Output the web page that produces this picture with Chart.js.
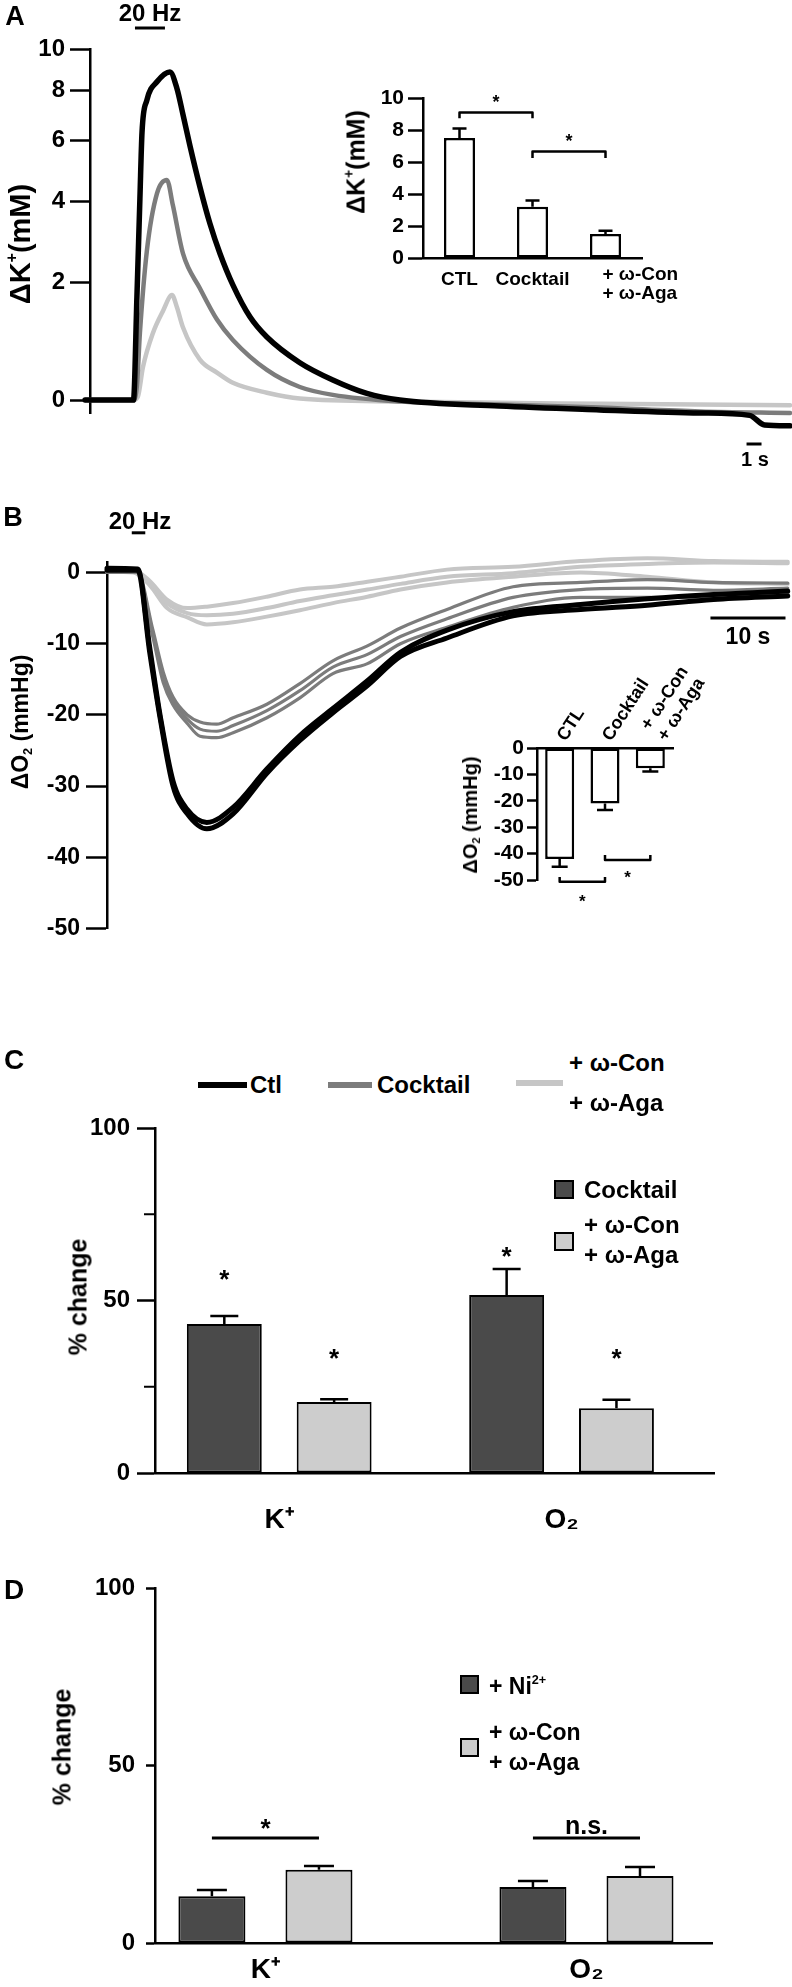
<!DOCTYPE html>
<html><head><meta charset="utf-8">
<script src="https://cdn.jsdelivr.net/npm/chart.js@4.4.1/dist/chart.umd.min.js"></script>
<style>
html,body{margin:0;padding:0;background:#fff;}
#fig{position:relative;width:792px;height:1987px;overflow:hidden;font-family:'Liberation Sans',Arial,Helvetica,sans-serif;font-weight:bold;color:#000;}
canvas{position:absolute;}
.t{position:absolute;white-space:nowrap;line-height:1;}
.c{transform:translate(-50%,-50%);}
.r{transform:translate(-50%,-50%) rotate(-90deg);}
.lv{transform:translateY(-50%);}
sup{font-size:55%;vertical-align:0;position:relative;top:-0.8em;line-height:0;}
sub{font-size:55%;vertical-align:0;position:relative;top:0.3em;line-height:0;}
.ln{position:absolute;height:6px;}
.sq{position:absolute;box-sizing:border-box;border:2px solid #000;}
</style></head>
<body>
<div id="fig">
  <canvas id="cA" width="792" height="470" style="left:0;top:0"></canvas>
  <canvas id="cAi" width="370" height="250" style="left:330px;top:60px"></canvas>
  <canvas id="cB" width="792" height="472" style="left:0;top:470px"></canvas>
  <canvas id="cBi" width="290" height="280" style="left:440px;top:640px"></canvas>
  <canvas id="cC" width="792" height="445" style="left:0;top:1105px"></canvas>
  <canvas id="cD" width="792" height="427" style="left:0;top:1560px"></canvas>

  <div class="t c" style="left:15px;top:16px;font-size:27px">A</div>
  <div class="t c" style="left:150px;top:13px;font-size:24px">20 Hz</div>
  <div class="t r" style="left:20px;top:244px;font-size:29px">ΔK<sup>+</sup>(mM)</div>
  <div class="t r" style="left:356px;top:162px;font-size:25px">ΔK<sup>+</sup>(mM)</div>
  <div class="t c" style="left:755px;top:459px;font-size:20px">1 s</div>

  <div class="t c" style="left:13px;top:517px;font-size:27px">B</div>
  <div class="t c" style="left:140px;top:521px;font-size:24px">20 Hz</div>
  <div class="t r" style="left:20px;top:722px;font-size:23px">ΔO<sub>2</sub> (mmHg)</div>
  <div class="t c" style="left:748px;top:636px;font-size:23px">10 s</div>
  <div class="t r" style="left:470px;top:815px;font-size:20px">ΔO<sub>2</sub> (mmHg)</div>

  <div class="t c" style="left:14px;top:1060px;font-size:28px">C</div>
  <div class="ln" style="left:198px;top:1082px;width:49px;background:#000"></div>
  <div class="t lv" style="left:250px;top:1085px;font-size:24px">Ctl</div>
  <div class="ln" style="left:328px;top:1082px;width:44px;background:#7c7c7c"></div>
  <div class="t lv" style="left:377px;top:1085px;font-size:24px">Cocktail</div>
  <div class="ln" style="left:516px;top:1080px;width:47px;background:#c6c6c6"></div>
  <div class="t lv" style="left:569px;top:1063px;font-size:24px">+ ω-Con</div>
  <div class="t lv" style="left:569px;top:1103px;font-size:24px">+ ω-Aga</div>
  <div class="t r" style="left:78px;top:1297px;font-size:25px">% change</div>
  <div class="sq" style="left:554px;top:1180px;width:20px;height:19px;background:#4a4a4a"></div>
  <div class="t lv" style="left:584px;top:1190px;font-size:24px">Cocktail</div>
  <div class="sq" style="left:554px;top:1232px;width:20px;height:19px;background:#cdcdcd"></div>
  <div class="t lv" style="left:584px;top:1225px;font-size:24px">+ ω-Con</div>
  <div class="t lv" style="left:584px;top:1255px;font-size:24px">+ ω-Aga</div>

  <div class="t c" style="left:14px;top:1590px;font-size:28px">D</div>
  <div class="t r" style="left:62px;top:1747px;font-size:25px">% change</div>
  <div class="sq" style="left:460px;top:1675px;width:19px;height:19px;background:#4a4a4a"></div>
  <div class="t lv" style="left:489px;top:1686px;font-size:23px">+ Ni<sup>2+</sup></div>
  <div class="sq" style="left:460px;top:1738px;width:19px;height:19px;background:#cdcdcd"></div>
  <div class="t lv" style="left:489px;top:1732px;font-size:23px">+ ω-Con</div>
  <div class="t lv" style="left:489px;top:1762px;font-size:23px">+ ω-Aga</div>
</div>
<script>
// ================= DATA =================
// Panel A: extracellular K+ transients (ΔK+, mM) vs time (s); electrode baseline for log axis
const K_BASELINE = 3.5;
const A_YTICKS = [0, 2, 4, 6, 8, 10];
const A_YMIN = -0.17;
const A_TMAX = 46.7;
const A_T_CTL = [-0.33, 2.9, 3.13, 3.33, 3.47, 3.8, 4.47, 5.33, 5.8, 6.2, 6.67, 7.33, 8.0, 8.67, 9.53, 10.67, 11.8, 14.0, 16.2, 18.47, 20.67, 27.3, 34.0, 40.7, 44.0, 45.0, 46.7];
const A_K_CTL = [0.0, 0.0, 1.7, 4.1, 6.3, 7.6, 8.4, 8.86, 8.1, 7.0, 5.8, 4.45, 3.4, 2.65, 1.95, 1.32, 0.96, 0.54, 0.28, 0.09, 0.0, -0.08, -0.13, -0.17, -0.2, -0.32, -0.33];
const A_T_COCKTAIL = [-0.33, 2.9, 3.13, 3.33, 3.8, 4.47, 5.13, 5.53, 6.2, 7.33, 8.47, 9.53, 11.8, 14.0, 16.2, 20.67, 27.3, 34.0, 40.7, 46.7];
const A_K_COCKTAIL = [0.0, 0.0, 0.2, 1.03, 2.73, 4.25, 4.66, 3.9, 2.65, 1.88, 1.27, 0.91, 0.43, 0.18, 0.07, -0.02, -0.06, -0.1, -0.15, -0.17];
const A_T_CONAGA = [-0.33, 2.9, 3.2, 3.53, 4.2, 4.87, 5.47, 5.8, 6.2, 7.33, 8.47, 9.53, 11.8, 14.0, 20.67, 34.0, 46.7];
const A_K_CONAGA = [0.0, 0.0, 0.05, 0.47, 1.03, 1.43, 1.74, 1.5, 1.13, 0.59, 0.39, 0.24, 0.1, 0.02, -0.02, -0.05, -0.07];
const A_STIM = [3, 5];          // 20 Hz stimulation (s)
const A_SCALEBAR = [43.8, 1];   // start (s), length (s)

// Panel A inset: ΔK+ (mM)
const INSET_A_CATS = ['CTL', 'Cocktail', ['+ ω-Con', '+ ω-Aga']];
const INSET_A_MEAN = [7.5, 3.2, 1.5];
const INSET_A_SEM = [0.6, 0.4, 0.2];
const INSET_A_YTICKS = [0, 2, 4, 6, 8, 10];
const INSET_A_SIG = [
  { from: 0, to: 1, level: 9.1, drop: 0.37, star: 10.0 },
  { from: 1, to: 2, level: 6.65, drop: 0.4, star: 7.6 }
];

// Panel B: ΔO2 (mmHg) vs time (s), several repeated traces per condition
const B_YTICKS = [0, -10, -20, -30, -40, -50];
const B_YMAX = 1.5;
const B_TMAX = 91;
const B_T_CTL = [0, 4.1, 5.7, 7.1, 8.8, 10.7, 13.3, 16.8, 21.3, 25.7, 30.1, 34.7, 39.1, 45.3, 54.1, 63.1, 72, 80.8, 90.7];
const B_O2_CTL_1 = [0.6, 0.5, -10.6, -20.2, -29.3, -33.3, -35.1, -33.0, -27.6, -22.9, -19.1, -15.2, -11.2, -8.1, -5.5, -4.5, -3.7, -3.1, -2.6];
const B_O2_CTL_2 = [0.3, 0.3, -11.3, -20.6, -30.0, -33.9, -36.0, -33.9, -28.2, -23.6, -19.7, -15.9, -11.8, -9.2, -6.1, -5.2, -4.6, -3.8, -3.3];
const B_T_COCKTAIL = [0, 4, 6.1, 7.5, 8.8, 10.7, 12.4, 14.6, 16.8, 21.3, 25.7, 30.1, 34.7, 39.1, 45.3, 54.1, 63.1, 72, 80.8, 90.7];
const B_O2_COCKTAIL_1 = [0.4, 0.3, -8.0, -14.0, -17.5, -20.0, -21.0, -21.3, -20.4, -18.5, -15.6, -12.4, -10.3, -7.8, -5.2, -2.0, -1.4, -1.0, -1.4, -1.5];
const B_O2_COCKTAIL_2 = [0.2, 0.1, -8.6, -14.8, -18.0, -20.6, -22.0, -22.3, -21.5, -19.4, -16.6, -13.3, -11.5, -9.0, -6.5, -3.5, -2.4, -2.2, -2.5, -2.2];
const B_O2_COCKTAIL_3 = [0.0, 0.0, -9.0, -15.5, -18.6, -21.2, -23.0, -23.2, -22.5, -20.4, -17.6, -14.2, -12.8, -10.0, -7.7, -4.9, -3.5, -3.5, -3.5, -3.0];
const B_T_CONAGA = [0, 3.5, 5.7, 8, 10.7, 13.3, 16.8, 21.3, 25.7, 30.1, 34.7, 39.1, 45.3, 54.1, 63.1, 72, 80.8, 90.7];
const B_O2_CONAGA_1 = [0.5, 0.4, -1.2, -3.8, -5.0, -4.8, -4.3, -3.4, -2.4, -2.0, -1.3, -0.6, 0.4, 0.8, 1.6, 2.0, 1.6, 1.5];
const B_O2_CONAGA_2 = [0.3, 0.2, -1.5, -4.3, -5.7, -6.0, -5.8, -5.0, -4.0, -3.2, -2.4, -1.6, -0.6, -0.1, 0.8, 1.2, 1.4, 1.3];
const B_O2_CONAGA_3 = [0.1, 0.0, -1.8, -5.0, -6.3, -7.3, -7.0, -6.2, -5.3, -4.3, -3.4, -2.4, -1.4, -0.6, 0.0, -0.6, -1.4, -1.6];
const B_STIM = [3.3, 5.1];
const B_SCALEBAR = { start: 80.4, len: 10, level: -6.4 };

// Panel B inset: ΔO2 (mmHg)
const INSET_B_CATS = ['CTL', 'Cocktail', ['+ ω-Con', '+ ω-Aga']];
const INSET_B_MEAN = [-42, -21, -7.7];
const INSET_B_SEM = [3, 2.5, 1.2];
const INSET_B_YTICKS = [0, -10, -20, -30, -40, -50];
const INSET_B_SIG = [
  { from: 0, to: 1, level: -50.7, rise: 1.8, star: -56.4 },
  { from: 1, to: 2, level: -42.4, rise: 1.9, star: -47.3 }
];

// Panel C: % change
const C_CATS = ['K⁺', 'O₂'];
const C_COCKTAIL = [43.2, 51.6];
const C_COCKTAIL_SEM = [2.3, 7.5];
const C_CONAGA = [20.6, 18.8];
const C_CONAGA_SEM = [0.8, 2.4];
const C_YTICKS = [0, 50, 100];
const C_YMINOR = [25, 75];
const C_STAR_COCKTAIL = [58, 64.6];
const C_STAR_CONAGA = [35, 35];

// Panel D: % change
const D_CATS = ['K⁺', 'O₂'];
const D_NI = [13.2, 15.8];
const D_NI_SEM = [1.7, 1.7];
const D_CONAGA = [20.6, 18.9];
const D_CONAGA_SEM = [1.1, 2.5];
const D_YTICKS = [0, 50, 100];
const D_SIG_TEXT = ['*', 'n.s.'];
const D_SIG_LEVEL = 29.6;
const D_SIG_TEXT_LEVEL = [34.1, 30.7];

// ================= STYLE / HELPERS =================
const FONT = "'Liberation Sans', Arial, Helvetica, sans-serif";
const BLACK = '#000000', GRAY = '#7c7c7c', LIGHT = '#c6c6c6', DARKBAR = '#4a4a4a', LIGHTBAR = '#cdcdcd';

Chart.defaults.font.family = FONT;
Chart.defaults.font.weight = 'bold';
Chart.defaults.color = '#000';
Chart.defaults.animation = false;
Chart.defaults.responsive = false;
Chart.defaults.devicePixelRatio = 1;
Chart.defaults.events = [];
Chart.defaults.plugins.legend.display = false;
Chart.defaults.plugins.tooltip.enabled = false;

function fixW(w) { return s => { s.width = w; s.paddingTop = 0; s.paddingBottom = 0; s.paddingLeft = 0; s.paddingRight = 0; }; }
function fixH(h) { return s => { s.height = h; s.paddingTop = 0; s.paddingBottom = 0; s.paddingLeft = 0; s.paddingRight = 0; }; }
function setTicks(vals, f) { return s => { s.ticks = vals.map(v => ({ value: f ? f(v) : v })); }; }

function yAxis(o) {
  return {
    type: o.type || 'linear', position: 'left', min: o.min, max: o.max,
    afterBuildTicks: setTicks(o.ticks, o.toScale),
    afterFit: fixW(o.width),
    ticks: { autoSkip: false, font: { size: o.size, weight: 'bold' }, padding: o.pad, color: '#000', callback: o.fmt || (v => String(v)) },
    grid: { display: true, drawOnChartArea: false, drawTicks: true, tickLength: o.tickLen, tickWidth: o.lw || 2.5, tickColor: '#000', color: '#000' },
    border: { display: true, color: '#000', width: o.lw || 2.5 }
  };
}
function trace(ts, vs, color, w, f) {
  return {
    data: ts.map((t, i) => ({ x: t, y: f ? f(vs[i]) : vs[i] })),
    borderColor: color, borderWidth: w, pointRadius: 0, fill: false, clip: false,
    tension: 0.4, cubicInterpolationMode: 'monotone', borderJoinStyle: 'round', borderCapStyle: 'round'
  };
}
function drawStar(ctx, x, yc, size) {
  ctx.font = `bold ${size}px ${FONT}`; ctx.textAlign = 'center'; ctx.textBaseline = 'alphabetic';
  ctx.fillText('*', x, yc + size * 0.575);
}
function hbar(ctx, x1, x2, y, w) {
  ctx.save(); ctx.strokeStyle = '#000'; ctx.lineWidth = w; ctx.lineCap = 'butt';
  ctx.beginPath(); ctx.moveTo(x1, y); ctx.lineTo(x2, y); ctx.stroke(); ctx.restore();
}

const errorBars = {
  id: 'errorBars',
  afterDatasetsDraw(chart, args, opts) {
    if (!opts || !opts.sem) return;
    const { ctx } = chart; const ys = chart.scales.y;
    ctx.save(); ctx.strokeStyle = '#000'; ctx.lineWidth = opts.width || 2; ctx.lineCap = 'butt';
    opts.sem.forEach((arr, di) => {
      const meta = chart.getDatasetMeta(di);
      meta.data.forEach((el, i) => {
        const d = chart.data.datasets[di].data[i];
        const val = (typeof d === 'object') ? d.y : d;
        const tip = val + Math.sign(val) * arr[i];
        const y0 = ys.getPixelForValue(val), y1 = ys.getPixelForValue(tip);
        ctx.beginPath(); ctx.moveTo(el.x, y0); ctx.lineTo(el.x, y1);
        ctx.moveTo(el.x - opts.cap / 2, y1); ctx.lineTo(el.x + opts.cap / 2, y1); ctx.stroke();
      });
    });
    ctx.restore();
  }
};
Chart.register(errorBars);

// ================= PANEL A =================
const toK = v => v + K_BASELINE;
new Chart(document.getElementById('cA'), {
  type: 'line',
  data: { datasets: [
    trace(A_T_CTL, A_K_CTL, BLACK, 5.5, toK),
    trace(A_T_COCKTAIL, A_K_COCKTAIL, GRAY, 4.5, toK),
    trace(A_T_CONAGA, A_K_CONAGA, LIGHT, 4.5, toK)
  ]},
  options: {
    layout: { padding: { left: 0, top: 49, right: 2, bottom: 57 } },
    scales: {
      x: { type: 'linear', display: false, min: 0, max: A_TMAX },
      y: yAxis({ type: 'logarithmic', min: toK(A_YMIN), max: toK(10), ticks: A_YTICKS, toScale: toK,
                 fmt: v => String(Math.round(v - K_BASELINE)), size: 24, pad: 5, tickLen: 20, width: 90 })
    }
  },
  plugins: [{
    id: 'aDecor',
    afterDraw(chart) {
      const { ctx, chartArea, scales: { x } } = chart;
      hbar(ctx, x.getPixelForValue(A_STIM[0]), x.getPixelForValue(A_STIM[1]), chartArea.top - 21, 3);
      hbar(ctx, x.getPixelForValue(A_SCALEBAR[0]), x.getPixelForValue(A_SCALEBAR[0] + A_SCALEBAR[1]), chartArea.bottom + 31, 3);
    }
  }]
});

// ---- inset A ----
new Chart(document.getElementById('cAi'), {
  type: 'bar',
  data: { labels: INSET_A_CATS.map(c => Array.isArray(c) ? c.join(' ') : c),
    datasets: [{ data: INSET_A_MEAN, backgroundColor: '#fff', borderColor: '#000', borderWidth: 2.5, borderSkipped: false,
                 barPercentage: 0.425, categoryPercentage: 1 }] },
  options: {
    layout: { padding: { left: 0, top: 38, right: 58, bottom: 0 } },
    scales: {
      x: { type: 'category', offset: true, grid: { display: false, drawTicks: false }, ticks: { display: false },
           border: { display: true, color: '#000', width: 2.5 }, afterFit: fixH(52) },
      y: yAxis({ min: 0, max: 10, ticks: INSET_A_YTICKS, size: 21, pad: 4, tickLen: 15, width: 93 })
    },
    plugins: { errorBars: { sem: [INSET_A_SEM], cap: 14, width: 2.5 } }
  },
  plugins: [{
    id: 'insetADecor',
    afterDraw(chart) {
      const { ctx, chartArea, scales: { x, y } } = chart;
      ctx.save(); ctx.fillStyle = '#000'; ctx.font = `bold 19px ${FONT}`; ctx.textBaseline = 'top';
      INSET_A_CATS.forEach((c, i) => {
        const px = x.getPixelForValue(i);
        if (Array.isArray(c)) { ctx.textAlign = 'left'; c.forEach((line, k) => ctx.fillText(line, px - 3, chartArea.bottom + 7 + k * 19)); }
        else { ctx.textAlign = 'center'; ctx.fillText(c, px, chartArea.bottom + 12); }
      });
      ctx.strokeStyle = '#000'; ctx.lineWidth = 2.5; ctx.lineJoin = 'round';
      INSET_A_SIG.forEach(b => {
        const x1 = x.getPixelForValue(b.from), x2 = x.getPixelForValue(b.to);
        const yl = y.getPixelForValue(b.level), ye = y.getPixelForValue(b.level - b.drop);
        ctx.beginPath(); ctx.moveTo(x1, ye); ctx.lineTo(x1, yl); ctx.lineTo(x2, yl); ctx.lineTo(x2, ye); ctx.stroke();
        drawStar(ctx, (x1 + x2) / 2, y.getPixelForValue(b.star), 18);
      });
      ctx.restore();
    }
  }]
});

// ================= PANEL B =================
new Chart(document.getElementById('cB'), {
  type: 'line',
  data: { datasets: [
    trace(B_T_CTL, B_O2_CTL_1, BLACK, 5),
    trace(B_T_CTL, B_O2_CTL_2, BLACK, 5),
    trace(B_T_COCKTAIL, B_O2_COCKTAIL_1, GRAY, 3.2),
    trace(B_T_COCKTAIL, B_O2_COCKTAIL_2, GRAY, 3.2),
    trace(B_T_COCKTAIL, B_O2_COCKTAIL_3, GRAY, 3.2),
    trace(B_T_CONAGA, B_O2_CONAGA_1, LIGHT, 4),
    trace(B_T_CONAGA, B_O2_CONAGA_2, LIGHT, 4),
    trace(B_T_CONAGA, B_O2_CONAGA_3, LIGHT, 4)
  ]},
  options: {
    layout: { padding: { left: 0, top: 91.8, right: 2, bottom: 13.5 } },
    scales: {
      x: { type: 'linear', display: false, min: 0, max: B_TMAX },
      y: yAxis({ min: -50, max: B_YMAX, ticks: B_YTICKS, size: 23, pad: 6, tickLen: 21, width: 107 })
    }
  },
  plugins: [{
    id: 'bDecor',
    afterDraw(chart) {
      const { ctx, chartArea, scales: { x, y } } = chart;
      hbar(ctx, x.getPixelForValue(B_STIM[0]), x.getPixelForValue(B_STIM[1]), chartArea.top - 29, 3);
      hbar(ctx, x.getPixelForValue(B_SCALEBAR.start), x.getPixelForValue(B_SCALEBAR.start + B_SCALEBAR.len), y.getPixelForValue(B_SCALEBAR.level), 3);
    }
  }]
});

// ---- inset B ----
new Chart(document.getElementById('cBi'), {
  type: 'bar',
  data: { labels: INSET_B_CATS.map(c => Array.isArray(c) ? c.join(' ') : c),
    datasets: [{ data: INSET_B_MEAN, backgroundColor: '#fff', borderColor: '#000', borderWidth: 2.5, borderSkipped: false,
                 barPercentage: 0.64, categoryPercentage: 1 }] },
  options: {
    layout: { padding: { left: 0, top: 0, right: 57, bottom: 40 } },
    scales: {
      x: { type: 'category', position: 'top', offset: true, grid: { display: false, drawTicks: false }, ticks: { display: false },
           border: { display: true, color: '#000', width: 2.5 }, afterFit: fixH(108) },
      y: yAxis({ min: -50, max: 0, ticks: INSET_B_YTICKS, size: 21, pad: 3, tickLen: 10, width: 97 })
    },
    plugins: { errorBars: { sem: [INSET_B_SEM], cap: 16, width: 2.5 } }
  },
  plugins: [{
    id: 'insetBDecor',
    afterDraw(chart) {
      const { ctx, chartArea, scales: { x, y } } = chart;
      const ang = -57 * Math.PI / 180, lh = 20;
      ctx.save(); ctx.fillStyle = '#000'; ctx.font = `bold 18px ${FONT}`; ctx.textAlign = 'left'; ctx.textBaseline = 'alphabetic';
      INSET_B_CATS.forEach((c, i) => {
        const lines = Array.isArray(c) ? c : [c];
        const n = lines.length;
        const ax = x.getPixelForValue(i) + 6 + (n - 1) * 10, ay = chartArea.top - 6;
        ctx.save(); ctx.translate(ax, ay); ctx.rotate(ang);
        lines.forEach((line, k) => ctx.fillText(line, 0, -(n - 1 - k) * lh));
        ctx.restore();
      });
      ctx.strokeStyle = '#000'; ctx.lineWidth = 2.5; ctx.lineJoin = 'round';
      INSET_B_SIG.forEach(b => {
        const x1 = x.getPixelForValue(b.from), x2 = x.getPixelForValue(b.to);
        const yl = y.getPixelForValue(b.level), ye = y.getPixelForValue(b.level + b.rise);
        ctx.beginPath(); ctx.moveTo(x1, ye); ctx.lineTo(x1, yl); ctx.lineTo(x2, yl); ctx.lineTo(x2, ye); ctx.stroke();
        drawStar(ctx, (x1 + x2) / 2, y.getPixelForValue(b.star), 17);
      });
      ctx.restore();
    }
  }]
});

// ================= PANEL C =================
function catX(cats, min, max, h, pad, size) {
  return {
    type: 'linear', position: 'bottom', min: min, max: max, offset: false,
    afterBuildTicks: s => { s.ticks = cats.map((_, i) => ({ value: i })); },
    afterFit: fixH(h),
    grid: { display: false, drawTicks: false },
    border: { display: true, color: '#000', width: 2.5 },
    ticks: { autoSkip: false, maxRotation: 0, minRotation: 0, padding: pad, font: { size: size, weight: 'bold' }, color: '#000',
             callback: v => cats[v] !== undefined ? cats[v] : '' }
  };
}
new Chart(document.getElementById('cC'), {
  type: 'bar',
  data: { datasets: [
    { data: C_COCKTAIL.map((v, i) => ({ x: i, y: v })), backgroundColor: DARKBAR, borderColor: '#000', borderWidth: 2, borderSkipped: false, categoryPercentage: 0.778, barPercentage: 0.682 },
    { data: C_CONAGA.map((v, i) => ({ x: i, y: v })), backgroundColor: LIGHTBAR, borderColor: '#000', borderWidth: 2, borderSkipped: false, categoryPercentage: 0.778, barPercentage: 0.682 }
  ]},
  options: {
    layout: { padding: { left: 0, top: 23, right: 78, bottom: 0 } },
    scales: {
      x: catX(C_CATS, -0.44, 1.54, 77, 30, 28),
      y: yAxis({ min: 0, max: 100, ticks: C_YTICKS, size: 24, pad: 7, tickLen: 18, width: 155 })
    },
    plugins: { errorBars: { sem: [C_COCKTAIL_SEM, C_CONAGA_SEM], cap: 28, width: 2.5 } }
  },
  plugins: [{
    id: 'cDecor',
    afterDraw(chart) {
      const { ctx, chartArea, scales: { y } } = chart;
      ctx.save(); ctx.strokeStyle = '#000'; ctx.lineWidth = 2;
      C_YMINOR.forEach(v => { const py = y.getPixelForValue(v); ctx.beginPath(); ctx.moveTo(chartArea.left - 11, py); ctx.lineTo(chartArea.left, py); ctx.stroke(); });
      ctx.fillStyle = '#000';
      [C_STAR_COCKTAIL, C_STAR_CONAGA].forEach((lv, di) => {
        chart.getDatasetMeta(di).data.forEach((el, i) => drawStar(ctx, el.x, y.getPixelForValue(lv[i]), 26));
      });
      ctx.restore();
    }
  }]
});

// ================= PANEL D =================
new Chart(document.getElementById('cD'), {
  type: 'bar',
  data: { datasets: [
    { data: D_NI.map((v, i) => ({ x: i, y: v })), backgroundColor: DARKBAR, borderColor: '#000', borderWidth: 2, borderSkipped: false, categoryPercentage: 0.667, barPercentage: 0.626 },
    { data: D_CONAGA.map((v, i) => ({ x: i, y: v })), backgroundColor: LIGHTBAR, borderColor: '#000', borderWidth: 2, borderSkipped: false, categoryPercentage: 0.667, barPercentage: 0.626 }
  ]},
  options: {
    layout: { padding: { left: 0, top: 28, right: 80, bottom: 0 } },
    scales: {
      x: catX(D_CATS, -0.344, 1.391, 44, 10, 28),
      y: yAxis({ min: 0, max: 100, ticks: D_YTICKS, size: 24, pad: 11, tickLen: 9, width: 155 })
    },
    plugins: { errorBars: { sem: [D_NI_SEM, D_CONAGA_SEM], cap: 30, width: 2.5 } }
  },
  plugins: [{
    id: 'dDecor',
    afterDraw(chart) {
      const { ctx, scales: { y } } = chart;
      const m0 = chart.getDatasetMeta(0).data, m1 = chart.getDatasetMeta(1).data;
      ctx.save(); ctx.fillStyle = '#000';
      D_SIG_TEXT.forEach((txt, i) => {
        const x1 = m0[i].x, x2 = m1[i].x, yl = y.getPixelForValue(D_SIG_LEVEL);
        hbar(ctx, x1, x2, yl, 3);
        if (txt === '*') drawStar(ctx, (x1 + x2) / 2, y.getPixelForValue(D_SIG_TEXT_LEVEL[i]), 26);
        else { ctx.font = `bold 25px ${FONT}`; ctx.textAlign = 'center'; ctx.textBaseline = 'alphabetic'; ctx.fillText(txt, (x1 + x2) / 2, y.getPixelForValue(D_SIG_TEXT_LEVEL[i])); }
      });
      ctx.restore();
    }
  }]
});
</script>
</body></html>
